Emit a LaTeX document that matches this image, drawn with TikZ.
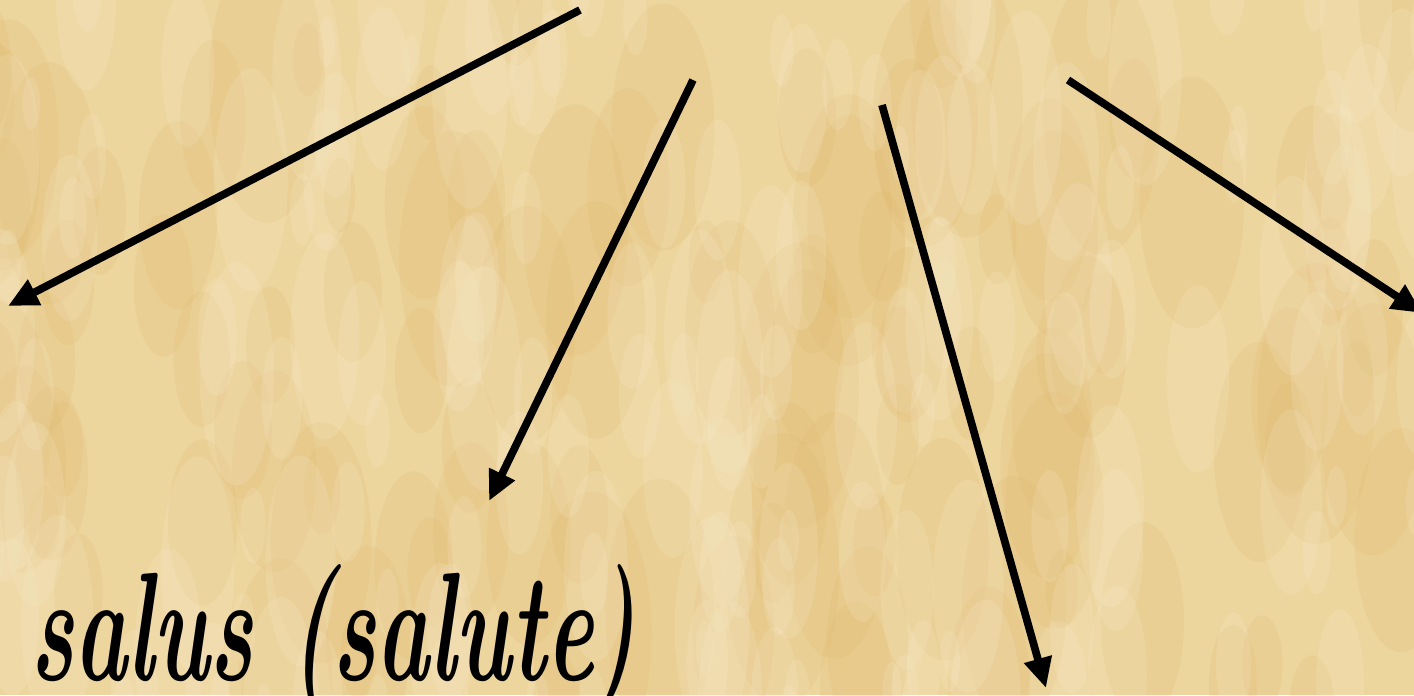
\documentclass[tikz,border=0pt]{standalone}
\usetikzlibrary{arrows.meta}
\definecolor{parchBg}{HTML}{EDD59E}
\definecolor{parchDark}{HTML}{DDB463}
\definecolor{parchLight}{HTML}{FBF1D8}
\tikzset{
  arr/.style={-{Triangle[length=3mm,width=2.7mm]}, line width=2.2pt, black},
  blotch/.style={fill=#1, fill opacity=0.16, draw=none},
  word/.style={font=\fontsize{44}{44}\selectfont\bfseries\itshape, anchor=base west,
    inner sep=0pt, xscale=0.58, transform shape}
}
\begin{document}
\begin{tikzpicture}[x=1cm,y=1cm]
  \useasboundingbox (0,0) rectangle (14.14,6.95);
  % parchment
  \begin{scope}
    \clip (0,0) rectangle (14.14,6.95);
    \fill[parchBg] (0,0) rectangle (14.14,6.95);
    \pgfmathsetseed{11}
    \foreach \k in {1,...,110}{
      \pgfmathsetmacro\cx{rnd*14.6-0.2}
      \pgfmathsetmacro\cy{rnd*7.4-0.2}
      \pgfmathsetmacro\rx{0.15+rnd*0.45}
      \fill[blotch=parchDark] (\cx,\cy) ellipse ({\rx} and {\rx*2.4});
    }
    \foreach \k in {1,...,160}{
      \pgfmathsetmacro\cx{rnd*14.6-0.2}
      \pgfmathsetmacro\cy{rnd*7.4-0.2}
      \pgfmathsetmacro\rx{0.08+rnd*0.3}
      \fill[blotch=parchLight] (\cx,\cy) ellipse ({\rx} and {\rx*3});
    }
  \end{scope}

  % arrows
  \coordinate (s1) at (5.80,6.85);  \coordinate (e1) at (0.08,3.89);
  \coordinate (s2) at (6.93,6.15);  \coordinate (e2) at (4.89,1.94);
  \coordinate (s3) at (8.82,5.90);  \coordinate (e3) at (10.46,0.07);
  \coordinate (s4) at (10.68,6.15); \coordinate (e4) at (14.22,3.82);
  \foreach \i in {1,...,4}{
    \draw[arr] (s\i) -- (e\i);
  }

  \node[word] (salus) at (0.30,0.15) {salus (salute)};
\end{tikzpicture}
\end{document}
